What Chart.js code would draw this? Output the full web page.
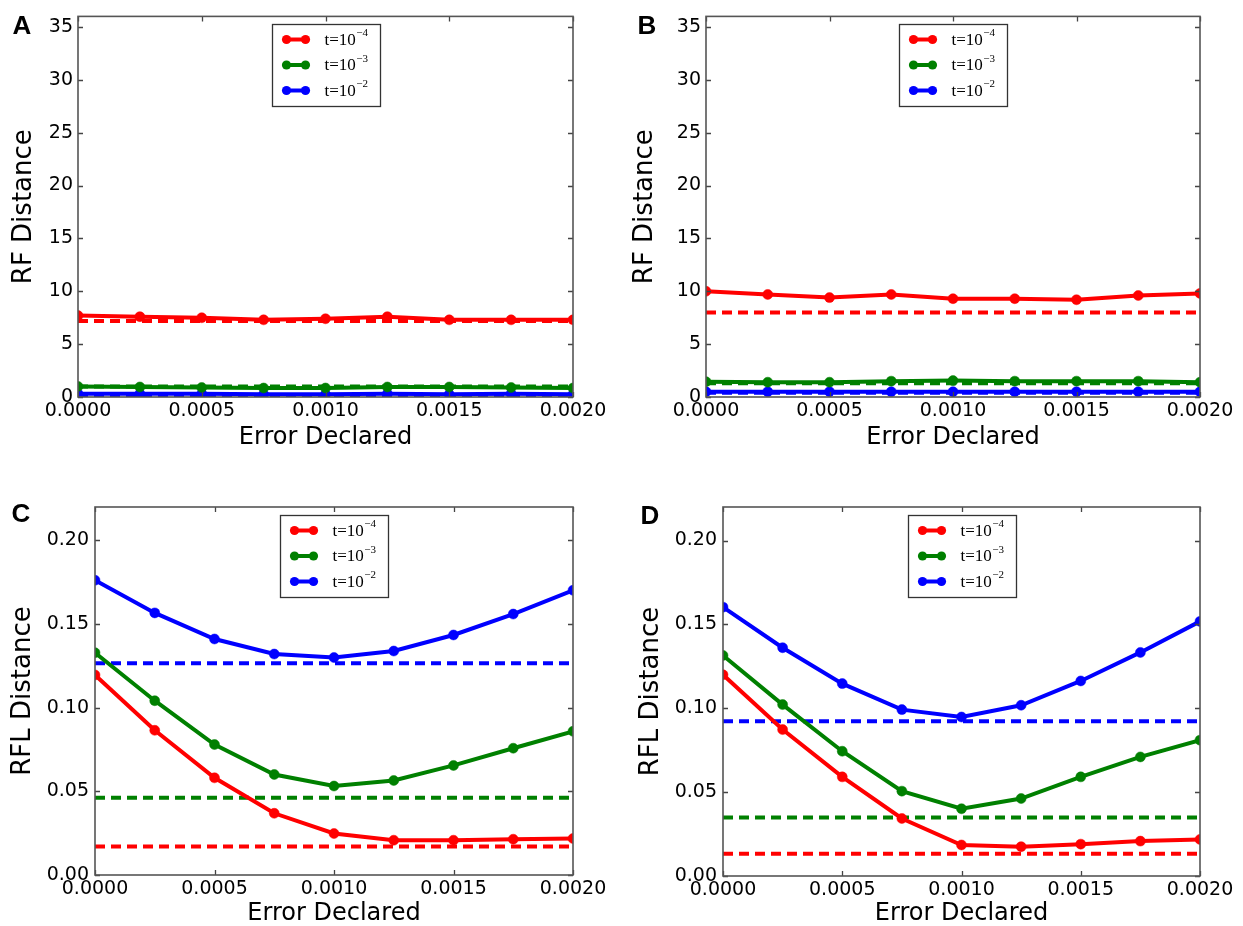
<!DOCTYPE html>
<html><head><meta charset="utf-8">
<script src="https://cdn.jsdelivr.net/npm/chart.js@4/dist/chart.umd.min.js"></script>
<style>
html,body{margin:0;padding:0;background:#fff;width:1243px;height:926px;overflow:hidden}
.p{position:absolute}
.lbl{position:absolute;width:40px;text-align:center;font:bold 26px "Liberation Sans",Arial,sans-serif;line-height:26px;color:#000}
</style></head><body>
<canvas class="p" id="cA" width="621" height="460" style="left:0;top:0"></canvas>
<canvas class="p" id="cB" width="622" height="460" style="left:621px;top:0"></canvas>
<canvas class="p" id="cC" width="621" height="466" style="left:0;top:460px"></canvas>
<canvas class="p" id="cD" width="622" height="466" style="left:621px;top:460px"></canvas>
<div class="lbl" style="left:2px;top:12px">A</div>
<div class="lbl" style="left:627px;top:12px">B</div>
<div class="lbl" style="left:1px;top:500px">C</div>
<div class="lbl" style="left:630px;top:502px">D</div>
<script>
// ---- data ----
const errorDeclared = [0, 0.00025, 0.0005, 0.00075, 0.001, 0.00125, 0.0015, 0.00175, 0.002];
const xTickValues = [0, 0.0005, 0.001, 0.0015, 0.002];
const rfTickValues = [0, 5, 10, 15, 20, 25, 30, 35];
const rflTickValues = [0, 0.05, 0.10, 0.15, 0.20];
const seriesBase = 't=10';
const seriesExponents = ['\u22124', '\u22123', '\u22122'];
const seriesColors = ['#ff0000', '#008000', '#0000ff'];
const xTitle = 'Error Declared';
const rfTitle = 'RF Distance';
const rflTitle = 'RFL Distance';

// Panel A (RF)
const rfA_t4 = [7.7, 7.6, 7.5, 7.3, 7.4, 7.6, 7.3, 7.3, 7.3];
const rfA_t3 = [1.0, 0.95, 0.9, 0.85, 0.85, 0.95, 0.95, 0.9, 0.85];
const rfA_t2 = [0.3, 0.3, 0.3, 0.25, 0.25, 0.3, 0.25, 0.3, 0.25];
const rfA_ref = [7.2, 1.0, 0.2];
// Panel B (RF)
const rfB_t4 = [10.0, 9.7, 9.4, 9.7, 9.3, 9.3, 9.2, 9.6, 9.8];
const rfB_t3 = [1.45, 1.4, 1.4, 1.5, 1.55, 1.5, 1.5, 1.5, 1.4];
const rfB_t2 = [0.5, 0.5, 0.5, 0.5, 0.5, 0.5, 0.5, 0.5, 0.5];
const rfB_ref = [8.0, 1.3, 0.4];
// Panel C (RFL)
const rflC_t4 = [0.1196, 0.0865, 0.0581, 0.0369, 0.0248, 0.0208, 0.0208, 0.0214, 0.0218];
const rflC_t3 = [0.1329, 0.1042, 0.0780, 0.0601, 0.0532, 0.0565, 0.0655, 0.0758, 0.0859];
const rflC_t2 = [0.1762, 0.1567, 0.1411, 0.1321, 0.1300, 0.1339, 0.1435, 0.1560, 0.1702];
const rflC_ref = [0.0171, 0.0462, 0.1266];
// Panel D (RFL)
const rflD_t4 = [0.1200, 0.0873, 0.0591, 0.0343, 0.0185, 0.0175, 0.0190, 0.0208, 0.0218];
const rflD_t3 = [0.1315, 0.1022, 0.0744, 0.0506, 0.0401, 0.0462, 0.0591, 0.0710, 0.0810];
const rflD_t2 = [0.1603, 0.1361, 0.1147, 0.0992, 0.0948, 0.1018, 0.1163, 0.1333, 0.1518];
const rflD_ref = [0.0133, 0.0349, 0.0923];

// ---- plugins ----
const frameTicks = {
  id: 'frameTicks',
  afterDraw(chart) {
    const ctx = chart.ctx, a = chart.chartArea;
    const xs = chart.scales.x, ys = chart.scales.y;
    ctx.save();
    ctx.strokeStyle = '#444'; ctx.lineWidth = 1.3;
    ctx.beginPath();
    xs.ticks.forEach(t => {
      const px = Math.round(xs.getPixelForValue(t.value)) + 0.5;
      ctx.moveTo(px, a.bottom); ctx.lineTo(px, a.bottom - 5);
      ctx.moveTo(px, a.top); ctx.lineTo(px, a.top + 5);
    });
    ys.ticks.forEach(t => {
      const py = Math.round(ys.getPixelForValue(t.value)) + 0.5;
      ctx.moveTo(a.left, py); ctx.lineTo(a.left + 5, py);
      ctx.moveTo(a.right, py); ctx.lineTo(a.right - 5, py);
    });
    ctx.stroke();
    ctx.strokeStyle = '#555'; ctx.lineWidth = 1.6;
    ctx.strokeRect(a.left, a.top, a.right - a.left, a.bottom - a.top);
    ctx.restore();
  }
};
const insetLegend = {
  id: 'insetLegend',
  afterDatasetsDraw(chart, args, opts) {
    const ctx = chart.ctx, a = chart.chartArea;
    const w = 108, h = 82;
    const x0 = Math.round((a.left + a.right) / 2 - w / 2 + (opts.dx || 0)) + 0.5;
    const y0 = Math.round(a.top + (opts.dy || 8)) + 0.5;
    ctx.save();
    ctx.fillStyle = '#fff'; ctx.strokeStyle = '#333'; ctx.lineWidth = 1.3;
    ctx.fillRect(x0, y0, w, h); ctx.strokeRect(x0, y0, w, h);
    const items = chart.data.datasets.filter(d => d.legendExp);
    items.forEach((d, i) => {
      const y = y0 + 15 + i * 25.5;
      ctx.strokeStyle = d.borderColor; ctx.lineWidth = 4;
      ctx.beginPath(); ctx.moveTo(x0 + 14, y); ctx.lineTo(x0 + 33, y); ctx.stroke();
      ctx.fillStyle = d.borderColor;
      [14, 33].forEach(dx => { ctx.beginPath(); ctx.arc(x0 + dx, y, 4.6, 0, Math.PI * 2); ctx.fill(); });
      ctx.fillStyle = '#000';
      ctx.textBaseline = 'middle'; ctx.textAlign = 'left';
      ctx.font = '17px "Liberation Serif", "DejaVu Serif", serif';
      const base = d.legendBase;
      ctx.fillText(base, x0 + 52, y + 1);
      const bw = ctx.measureText(base).width;
      ctx.font = '11px "Liberation Serif", "DejaVu Serif", serif';
      ctx.fillText(d.legendExp, x0 + 52 + bw + 0.5, y - 6);
    });
    ctx.restore();
  }
};

function makePanel(id, geo, seriesList, refList, yMax, yTicks, yDigits, yTitle) {
  const canvas = document.getElementById(id);
  const W = canvas.width, H = canvas.height;
  const datasets = [];
  seriesList.forEach((vals, i) => {
    datasets.push({
      data: errorDeclared.map((x, k) => ({ x: x, y: vals[k] })),
      borderColor: seriesColors[i], backgroundColor: seriesColors[i],
      pointBackgroundColor: seriesColors[i], pointBorderColor: seriesColors[i],
      borderWidth: 4, pointRadius: 5, pointBorderWidth: 0.5, tension: 0,
      clip: 0, legendBase: seriesBase, legendExp: seriesExponents[i]
    });
    datasets.push({
      data: [{ x: errorDeclared[0], y: refList[i] }, { x: errorDeclared[errorDeclared.length - 1], y: refList[i] }],
      borderColor: seriesColors[i], borderWidth: 4, borderDash: [10, 6],
      pointRadius: 0, clip: 0
    });
  });
  const font = { family: '"DejaVu Sans", sans-serif', size: 19 };
  new Chart(canvas, {
    type: 'line',
    data: { datasets },
    options: {
      responsive: false, animation: false, events: [],
      layout: { padding: { left: 0, top: geo.top, right: W - geo.right, bottom: 0 } },
      plugins: { legend: { display: false }, tooltip: { enabled: false }, insetLegend: { dy: 8 } },
      scales: {
        x: {
          type: 'linear', min: 0, max: 0.002,
          afterBuildTicks: s => { s.ticks = xTickValues.map(v => ({ value: v })); },
          afterFit: s => { s.height = H - geo.bottom; },
          grid: { display: false, drawTicks: false }, border: { display: false },
          ticks: { color: '#000', font, padding: 3, maxRotation: 0, autoSkip: false,
                   callback: v => Number(v).toFixed(4) },
          title: { display: true, text: xTitle, color: '#000',
                   font: { family: '"DejaVu Sans", sans-serif', size: 24, lineHeight: 1 },
                   padding: { top: 0, bottom: geo.xTitlePad } }
        },
        y: {
          type: 'linear', min: 0, max: yMax,
          afterBuildTicks: s => { s.ticks = yTicks.map(v => ({ value: v })); },
          afterFit: s => { s.width = geo.left; },
          grid: { display: false, drawTicks: false }, border: { display: false },
          ticks: { color: '#000', font, padding: geo.yPad, autoSkip: false,
                   callback: v => Number(v).toFixed(yDigits) },
          title: { display: true, text: yTitle, color: '#000',
                   font: { family: '"DejaVu Sans", sans-serif', size: 26, lineHeight: 1 },
                   padding: { top: geo.yTitlePad, bottom: 0 } }
        }
      }
    },
    plugins: [insetLegend, frameTicks]
  });
}

makePanel('cA', { left: 78, top: 16, right: 573, bottom: 397, xTitlePad: 10, yPad: 5, yTitlePad: 11 },
  [rfA_t4, rfA_t3, rfA_t2], rfA_ref, 36, rfTickValues, 0, rfTitle);
makePanel('cB', { left: 85, top: 16, right: 579, bottom: 397, xTitlePad: 10, yPad: 5, yTitlePad: 11 },
  [rfB_t4, rfB_t3, rfB_t2], rfB_ref, 36, rfTickValues, 0, rfTitle);
makePanel('cC', { left: 95, top: 47, right: 573, bottom: 415, xTitlePad: 0, yPad: 6, yTitlePad: 10 },
  [rflC_t4, rflC_t3, rflC_t2], rflC_ref, 0.22, rflTickValues, 2, rflTitle);
makePanel('cD', { left: 102, top: 47, right: 579, bottom: 416, xTitlePad: 0, yPad: 6, yTitlePad: 17 },
  [rflD_t4, rflD_t3, rflD_t2], rflD_ref, 0.22, rflTickValues, 2, rflTitle);
</script>
</body></html>
